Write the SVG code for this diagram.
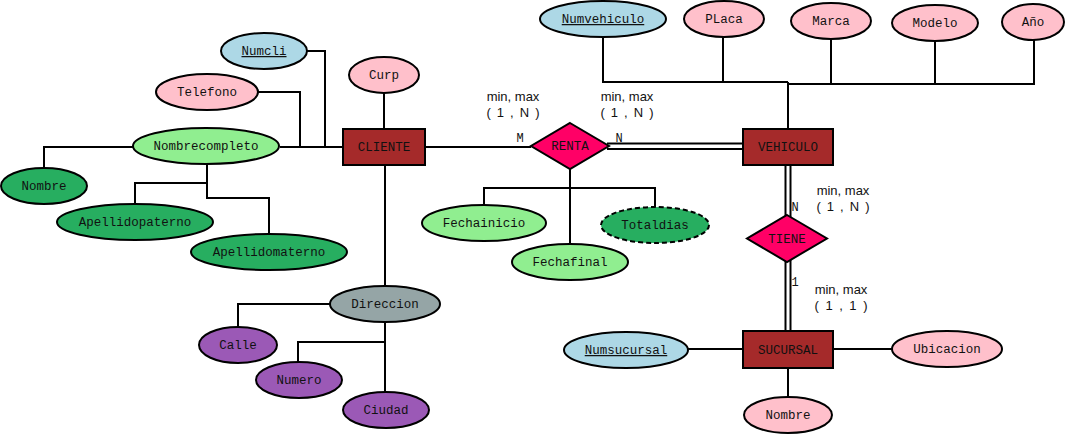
<svg xmlns="http://www.w3.org/2000/svg" width="1069" height="435" viewBox="0 0 1069 435">
  <style>
    .bg { fill: #ffffff; }
    .attr { stroke: #000; stroke-width: 2; }
    .key { fill: #add8e6; }
    .pink { fill: #ffc0cb; }
    .lgreen { fill: #90ee90; }
    .dgreen { fill: #27ae60; }
    .gray { fill: #95a5a6; }
    .purple { fill: #9b59b6; }
    .derived { stroke-dasharray: 5 3; }
    .entity { fill: #a52a2a; stroke: #000; stroke-width: 2; }
    .rel { fill: #ff0066; stroke: #000; stroke-width: 2; }
    .lbl { font-family: "Liberation Mono", "Courier New", monospace; font-size: 12.5px; fill: #111; text-anchor: middle; }
    .ulbl { text-decoration: underline; }
    .card { font-family: "Liberation Mono", "Courier New", monospace; font-size: 12px; fill: #111; text-anchor: middle; }
    .note { font-family: "Liberation Sans", Arial, sans-serif; font-size: 13px; fill: #111; text-anchor: middle; }
    .wire { fill: none; stroke: #000; stroke-width: 2; }
  </style>
  <rect class="bg" x="0" y="0" width="1069" height="435"/>

  <!-- connectors -->
  <g id="connectors">
    <!-- CLIENTE attributes -->
    <polyline class="wire" points="307,51 325,51 325,147 343,147"/>
    <polyline class="wire" points="258,92 300,92 300,147 343,147"/>
    <line class="wire" x1="280" y1="147" x2="343" y2="147"/>
    <line class="wire" x1="384" y1="93" x2="384" y2="129"/>
    <polyline class="wire" points="133,147 44,147 44,168"/>
    <polyline class="wire" points="207,164 207,183 135,183 135,204"/>
    <polyline class="wire" points="207,183 207,198 269,198 269,234"/>
    <line class="wire" x1="385" y1="165" x2="385" y2="286"/>
    <polyline class="wire" points="330,304 238,304 238,327"/>
    <polyline class="wire" points="385,322 385,342 298,342 298,362"/>
    <line class="wire" x1="385" y1="342" x2="385" y2="392"/>
    <!-- CLIENTE - RENTA -->
    <line class="wire" x1="425" y1="147" x2="531" y2="147"/>
    <!-- RENTA - VEHICULO (total participation) -->
    <line class="wire" x1="607" y1="143.5" x2="743" y2="143.5"/>
    <line class="wire" x1="607" y1="149" x2="743" y2="149"/>
    <!-- RENTA attributes -->
    <line class="wire" x1="570" y1="169" x2="570" y2="244"/>
    <polyline class="wire" points="484,205 484,188 655,188 655,207"/>
    <!-- VEHICULO attributes -->
    <polyline class="wire" points="603,37 603,82 788,82"/>
    <line class="wire" x1="723" y1="37" x2="723" y2="82"/>
    <polyline class="wire" points="788,82 788,84 1034,84 1034,40"/>
    <line class="wire" x1="831" y1="39" x2="831" y2="84"/>
    <line class="wire" x1="935" y1="41" x2="935" y2="84"/>
    <line class="wire" x1="788" y1="84" x2="788" y2="129"/>
    <!-- VEHICULO - TIENE - SUCURSAL (total participation) -->
    <line class="wire" x1="785.5" y1="165" x2="785.5" y2="216"/>
    <line class="wire" x1="790.5" y1="165" x2="790.5" y2="219"/>
    <line class="wire" x1="785.5" y1="261" x2="785.5" y2="331"/>
    <line class="wire" x1="790.5" y1="258" x2="790.5" y2="331"/>
    <!-- SUCURSAL attributes -->
    <line class="wire" x1="688" y1="349" x2="743" y2="349"/>
    <line class="wire" x1="833" y1="349" x2="892" y2="349"/>
    <line class="wire" x1="788" y1="368" x2="788" y2="397"/>
  </g>

  <!-- CLIENTE -->
  <g id="cliente">
    <rect class="entity" x="343" y="129" width="82" height="36"/>
    <text class="lbl" x="384" y="151">CLIENTE</text>
  </g>
  <g id="numcli">
    <ellipse class="attr key" cx="264" cy="51" rx="43" ry="18"/>
    <text class="lbl ulbl" x="264" y="55">Numcli</text>
  </g>
  <g id="curp">
    <ellipse class="attr pink" cx="384" cy="75" rx="35" ry="18"/>
    <text class="lbl" x="384" y="79">Curp</text>
  </g>
  <g id="telefono">
    <ellipse class="attr pink" cx="207" cy="92" rx="51" ry="18"/>
    <text class="lbl" x="207" y="96">Telefono</text>
  </g>
  <g id="nombrecompleto">
    <ellipse class="attr lgreen" cx="206" cy="146" rx="73" ry="18"/>
    <text class="lbl" x="206" y="150">Nombrecompleto</text>
  </g>
  <g id="nombre-cliente">
    <ellipse class="attr dgreen" cx="44" cy="186" rx="43" ry="18"/>
    <text class="lbl" x="44" y="190">Nombre</text>
  </g>
  <g id="apellidopaterno">
    <ellipse class="attr dgreen" cx="135" cy="222" rx="78" ry="18"/>
    <text class="lbl" x="135" y="226">Apellidopaterno</text>
  </g>
  <g id="apellidomaterno">
    <ellipse class="attr dgreen" cx="269" cy="252" rx="78" ry="18"/>
    <text class="lbl" x="269" y="256">Apellidomaterno</text>
  </g>
  <g id="direccion">
    <ellipse class="attr gray" cx="385" cy="304" rx="55" ry="18"/>
    <text class="lbl" x="385" y="308">Direccion</text>
  </g>
  <g id="calle">
    <ellipse class="attr purple" cx="238" cy="345" rx="39" ry="18"/>
    <text class="lbl" x="238" y="349">Calle</text>
  </g>
  <g id="numero">
    <ellipse class="attr purple" cx="299" cy="380" rx="43" ry="18"/>
    <text class="lbl" x="299" y="384">Numero</text>
  </g>
  <g id="ciudad">
    <ellipse class="attr purple" cx="386" cy="410" rx="43" ry="18"/>
    <text class="lbl" x="386" y="414">Ciudad</text>
  </g>

  <!-- RENTA -->
  <g id="renta">
    <polygon class="rel" points="570,123 609,146 570,169 531,146"/>
    <text class="lbl" x="570" y="150">RENTA</text>
    <text class="card" x="520" y="142">M</text>
    <text class="card" x="619" y="142">N</text>
    <text class="note" x="513" y="101">min, max</text>
    <text class="note" x="513" y="117" textLength="53" lengthAdjust="spacing">( 1 , N )</text>
    <text class="note" x="627" y="101">min, max</text>
    <text class="note" x="627" y="117" textLength="53" lengthAdjust="spacing">( 1 , N )</text>
  </g>
  <g id="fechainicio">
    <ellipse class="attr lgreen" cx="484" cy="223" rx="62" ry="18"/>
    <text class="lbl" x="484" y="227">Fechainicio</text>
  </g>
  <g id="fechafinal">
    <ellipse class="attr lgreen" cx="570" cy="262" rx="58" ry="18"/>
    <text class="lbl" x="570" y="266">Fechafinal</text>
  </g>
  <g id="totaldias">
    <ellipse class="attr dgreen derived" cx="655" cy="225" rx="54" ry="18"/>
    <text class="lbl" x="655" y="229">Totaldias</text>
  </g>

  <!-- VEHICULO -->
  <g id="vehiculo">
    <rect class="entity" x="743" y="129" width="90" height="36"/>
    <text class="lbl" x="788" y="151">VEHICULO</text>
  </g>
  <g id="numvehiculo">
    <ellipse class="attr key" cx="603" cy="19" rx="63" ry="18"/>
    <text class="lbl ulbl" x="603" y="23">Numvehiculo</text>
  </g>
  <g id="placa">
    <ellipse class="attr pink" cx="724" cy="19" rx="40" ry="18"/>
    <text class="lbl" x="724" y="23">PLaca</text>
  </g>
  <g id="marca">
    <ellipse class="attr pink" cx="831" cy="21" rx="40" ry="18"/>
    <text class="lbl" x="831" y="25">Marca</text>
  </g>
  <g id="modelo">
    <ellipse class="attr pink" cx="935" cy="23" rx="43" ry="18"/>
    <text class="lbl" x="935" y="27">Modelo</text>
  </g>
  <g id="anio">
    <ellipse class="attr pink" cx="1033" cy="22" rx="31" ry="18"/>
    <text class="lbl" x="1033" y="26">Año</text>
  </g>

  <!-- TIENE -->
  <g id="tiene">
    <polygon class="rel" points="787,215 827,238.5 787,262 747,238.5"/>
    <text class="lbl" x="787" y="243">TIENE</text>
    <text class="card" x="795" y="211">N</text>
    <text class="card" x="795" y="286">1</text>
    <text class="note" x="843" y="195">min, max</text>
    <text class="note" x="843" y="211" textLength="53" lengthAdjust="spacing">( 1 , N )</text>
    <text class="note" x="841" y="294">min, max</text>
    <text class="note" x="841" y="310" textLength="53" lengthAdjust="spacing">( 1 , 1 )</text>
  </g>

  <!-- SUCURSAL -->
  <g id="sucursal">
    <rect class="entity" x="743" y="331" width="90" height="37"/>
    <text class="lbl" x="788" y="354">SUCURSAL</text>
  </g>
  <g id="numsucursal">
    <ellipse class="attr key" cx="626" cy="350" rx="62" ry="18"/>
    <text class="lbl ulbl" x="626" y="354">Numsucursal</text>
  </g>
  <g id="ubicacion">
    <ellipse class="attr pink" cx="947" cy="349" rx="55" ry="18"/>
    <text class="lbl" x="947" y="353">Ubicacion</text>
  </g>
  <g id="nombre-sucursal">
    <ellipse class="attr pink" cx="788" cy="415" rx="44" ry="18"/>
    <text class="lbl" x="788" y="419">Nombre</text>
  </g>
</svg>
